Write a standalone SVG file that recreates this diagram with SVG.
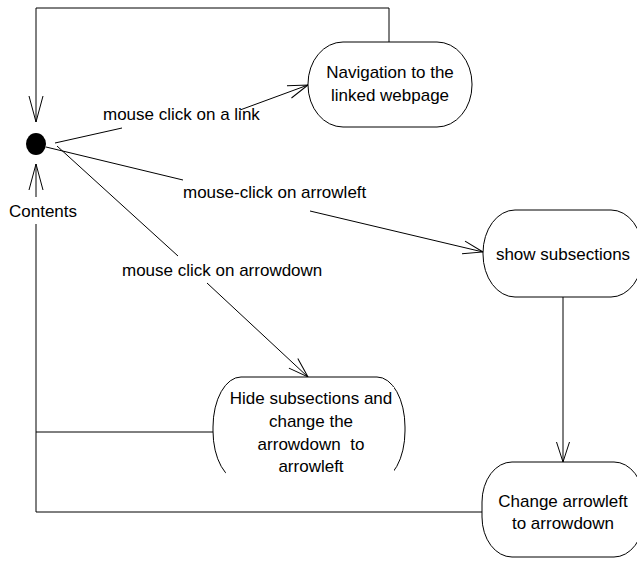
<svg xmlns="http://www.w3.org/2000/svg" width="637" height="561" viewBox="0 0 637 561">
<style>
.n{fill:#fff;stroke:#000;stroke-width:1}
.c{fill:none;stroke:#000;stroke-width:1}
text{font-family:"Liberation Sans",Arial,sans-serif;font-size:17px;fill:#000}
.m{text-anchor:middle}
</style>
<defs>
<marker id="a" markerUnits="userSpaceOnUse" viewBox="-22 -8 24 16" markerWidth="24" markerHeight="16" refX="0" refY="0" orient="auto">
<path d="M-20,-6.5 L0,0 L-20,6.5" fill="none" stroke="#000" stroke-width="1"/>
</marker>
<marker id="b" markerUnits="userSpaceOnUse" viewBox="-28 -9 30 18" markerWidth="30" markerHeight="18" refX="0" refY="0" orient="auto">
<path d="M-26,-7 L0,0 L-26,7" fill="none" stroke="#000" stroke-width="1"/>
</marker>
</defs>
<rect width="637" height="561" fill="#fff"/>
<g id="connectors">
<polyline class="c" points="389,42 389,8 36,8 36,122" marker-end="url(#b)"/>
<line class="c" x1="36" y1="197" x2="36" y2="164" marker-end="url(#b)"/>
<line class="c" x1="55" y1="143" x2="122" y2="128"/>
<line class="c" x1="240" y1="110" x2="308" y2="85" marker-end="url(#a)"/>
<line class="c" x1="46" y1="147" x2="183" y2="180"/>
<line class="c" x1="310" y1="211" x2="483" y2="252" marker-end="url(#a)"/>
<line class="c" x1="57" y1="146" x2="178" y2="256"/>
<line class="c" x1="207" y1="283" x2="308" y2="377" marker-end="url(#a)"/>
<line class="c" x1="563" y1="297" x2="563" y2="462" marker-end="url(#a)"/>
<polyline class="c" points="213,432 36,432"/>
<polyline class="c" points="36,224 36,512 482,512"/>
<text x="103" y="120">mouse click on a link</text>
<text x="183" y="198">mouse-click on arrowleft</text>
<text x="122" y="276">mouse click on arrowdown</text>
</g>
<g id="initial">
<ellipse cx="36" cy="144" rx="10" ry="11" fill="#000"/>
<text x="9" y="217">Contents</text>
</g>
<g id="navigation">
<rect class="n" x="308" y="42" width="164" height="85" rx="35" ry="42"/>
<text class="m" x="390" y="78">Navigation to the</text>
<text class="m" x="390" y="101">linked webpage</text>
</g>
<g id="show">
<rect class="n" x="483" y="210" width="160" height="87" rx="32" ry="43"/>
<text class="m" x="563" y="260">show subsections</text>
</g>
<g id="hide">
<rect class="n" x="213" y="377" width="192" height="104" rx="28" ry="50"/>
<rect x="226" y="387" width="168" height="96" fill="#fff"/>
<text class="m" x="311" y="404">Hide subsections and</text>
<text class="m" x="311" y="427">change the</text>
<text class="m" x="311" y="450">arrowdown&#160; to</text>
<text class="m" x="311" y="472">arrowleft</text>
</g>
<g id="change">
<rect class="n" x="482" y="462" width="162" height="95" rx="30" ry="40"/>
<text class="m" x="563" y="507">Change arrowleft</text>
<text class="m" x="563" y="529">to arrowdown</text>
</g>
</svg>
